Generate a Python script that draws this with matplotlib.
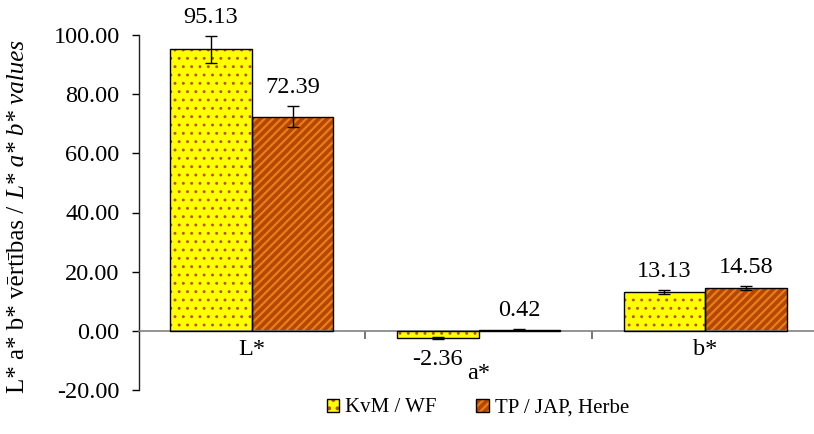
import matplotlib
matplotlib.use("Agg")
import matplotlib.pyplot as plt
from matplotlib.patches import Patch
from matplotlib.legend_handler import HandlerTuple
from matplotlib.transforms import offset_copy
import numpy as np

# dati
categories = ["L*", "a*", "b*"]
series_names = ["KvM / WF", "TP / JAP, Herbe"]
kvm_vals = [95.13, -2.36, 13.13]
kvm_err = [4.7, 0.3, 0.8]
tp_vals = [72.39, 0.42, 14.58]
tp_err = [3.6, 0.2, 0.7]
yticks = [-20, 0, 20, 40, 60, 80, 100]

plt.rcParams['font.family'] = ['Liberation Serif', 'DejaVu Serif']
FS = 17.5

fig = plt.figure(figsize=(8.14, 4.34), dpi=100)
ax = fig.add_axes([138.5/814, 1-390/434, 680/814, 355/434])

x = np.arange(len(categories))
w = 0.36
styles = [
    dict(face="#FFFF00", hatch="..", hcol="#B8501A", hlw=0.9),
    dict(face="#B84600", hatch="////", hcol="#E2801A", hlw=1.6),
]
for vals, errs, off, st in [(kvm_vals, kvm_err, -w/2, styles[0]), (tp_vals, tp_err, w/2, styles[1])]:
    # primo strato: riempimento + trama, secondo strato: bordo nero
    plt.rcParams['hatch.linewidth'] = st["hlw"]
    ax.bar(x+off, vals, w, color=st["face"], hatch=st["hatch"], edgecolor=st["hcol"], linewidth=0, zorder=2)
    ax.bar(x+off, vals, w, fill=False, edgecolor="black", linewidth=1.0, zorder=3)
    ax.errorbar(x+off, vals, yerr=errs, fmt="none", ecolor="black", elinewidth=1.0, capsize=4, capthick=1.0, zorder=4)
    for xi, v, e in zip(x+off, vals, errs):
        if v >= 0:
            ax.annotate("%.2f" % v, (xi, v+e), xytext=(0, 13), textcoords="offset points",
                        ha="center", va="center", fontsize=FS)
        else:
            ax.annotate("%.2f" % v, (xi, v-e), xytext=(0, -15), textcoords="offset points",
                        ha="center", va="center", fontsize=FS)

ax.set_xlim(-0.5, 2.5)
ax.set_ylim(-20, 100)
ax.set_yticks(yticks)
ax.set_yticklabels(["%.2f" % t for t in yticks], fontsize=FS)
ax.tick_params(axis="y", length=5, width=1, pad=8.5, colors="black")

ax.spines["bottom"].set_position(("data", 0))
ax.spines["bottom"].set_color("#808080")
ax.spines["bottom"].set_linewidth(1.2)
ax.spines["left"].set_linewidth(1.0)
ax.spines["left"].set_color("#202020")
ax.spines["top"].set_visible(False)
ax.spines["right"].set_visible(False)

ax.set_xticks(x)
ax.set_xticklabels(categories, fontsize=FS)
ax.set_xticks(x[:-1]+0.5, minor=True)
ax.tick_params(axis="x", which="major", length=0, pad=6)
ax.tick_params(axis="x", which="minor", length=6, width=1.2, color="#606060")
for lab, a, b in zip(ax.get_xticklabels(), kvm_vals, tp_vals):
    if min(a, b) < 0:
        lab.set_transform(offset_copy(lab.get_transform(), fig=fig, x=0, y=-17, units="points"))

# etichetta asse y: parte normale e parte in corsivo, una dopo l'altra
fs = 18
t1 = fig.text(18/814, 0, "L* a* b* vērtības / ", rotation=90, ha="center", va="bottom", fontsize=fs)
t2 = fig.text(18/814, 0, "L* a* b* values", rotation=90, ha="center", va="bottom", fontsize=fs, style="italic")
r = fig.canvas.get_renderer()
h1 = t1.get_window_extent(r).height
h2 = t2.get_window_extent(r).height
ybot = 217.5 - (h1+h2)/2
t1.set_position((18/814, ybot/434))
t2.set_position((18/814, (ybot+h1)/434))

handles = []
for s in styles:
    plt.rcParams['hatch.linewidth'] = s["hlw"]
    handles.append((Patch(facecolor=s["face"], edgecolor=s["hcol"], hatch=s["hatch"], linewidth=0),
                    Patch(fill=False, edgecolor="black", linewidth=1.0)))
fig.legend(handles, series_names, loc="center", bbox_to_anchor=(478/814, 1-408/434), ncol=2, frameon=False,
           fontsize=15, handlelength=0.6, handleheight=0.6, handletextpad=0.3, columnspacing=1.9,
           handler_map={tuple: HandlerTuple(ndivide=1, pad=0)})

fig.savefig("out.png", dpi=100)
